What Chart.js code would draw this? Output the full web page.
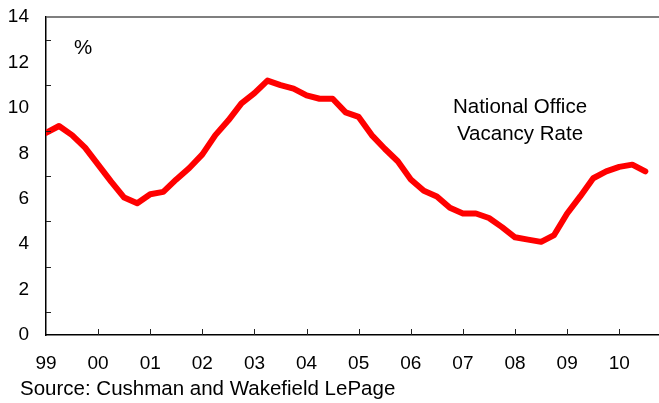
<!DOCTYPE html>
<html lang="en">
<head>
    <meta charset="UTF-8">
    <title>National Office Vacancy Rate</title>
    <style>
        body {
            margin: 0;
            background: #fff;
        }
        #wrap {
            position: relative;
            width: 659px;
            height: 403px;
        }
    </style>
</head>
<body>
    <div id="wrap">
        <canvas id="grafica" width="659" height="403"></canvas>
    </div>

    <script src="https://cdn.jsdelivr.net/npm/chart.js"></script>
    <script>
        // quarterly, 1999 Q1 .. 2010 Q3 (index 0 = 1999 Q1)
        let trimestres = [];
        let vacancia = [8.9, 9.2, 8.8, 8.25, 7.5, 6.75, 6.05, 5.8,
            6.2, 6.3, 6.85, 7.35, 7.95, 8.8, 9.45, 10.2,
            10.65, 11.2, 11.0, 10.85, 10.55, 10.4, 10.4, 9.8,
            9.6, 8.8, 8.2, 7.65, 6.85, 6.35, 6.1, 5.6,
            5.35, 5.35, 5.15, 4.75, 4.3, 4.2, 4.1, 4.4,
            5.35, 6.1, 6.9, 7.2, 7.4, 7.5, 7.2];
        for (let i = 0; i < vacancia.length; i++) trimestres.push(i);

        let anios = ["99", "00", "01", "02", "03", "04", "05", "06", "07", "08", "09", "10"];
        let yTicks = [0, 2, 4, 6, 8, 10, 12, 14];

        let fuente = "'Liberation Sans', Arial, sans-serif";

        // tick marks inside the axes + top frame line + text notes
        let extras = {
            id: 'extras',
            afterDraw(chart) {
                let ctx = chart.ctx;
                let area = chart.chartArea;
                let x = chart.scales.x, y = chart.scales.y;
                ctx.save();
                ctx.strokeStyle = '#555';
                ctx.lineWidth = 1.5;
                ctx.beginPath();
                ctx.moveTo(area.left, area.top);
                ctx.lineTo(area.right, area.top);
                ctx.stroke();

                ctx.strokeStyle = '#222';
                ctx.lineWidth = 1;
                for (let v = 1; v < 14; v += 2) {
                    let py = Math.round(y.getPixelForValue(v)) + 0.5;
                    ctx.beginPath();
                    ctx.moveTo(area.left, py);
                    ctx.lineTo(area.left + 5, py);
                    ctx.stroke();
                }
                for (let k = 1; k < anios.length; k++) {
                    let px = Math.round(x.getPixelForValue(k * 4)) + 0.5;
                    ctx.beginPath();
                    ctx.moveTo(px, area.bottom);
                    ctx.lineTo(px, area.bottom - 6);
                    ctx.stroke();
                }

                ctx.fillStyle = '#000';
                ctx.font = '20.5px ' + fuente;
                ctx.textAlign = 'center';
                ctx.textBaseline = 'alphabetic';
                ctx.fillText('%', 83, 54);
                ctx.fillText('National Office', 520, 113);
                ctx.fillText('Vacancy Rate', 520, 140);
                ctx.textAlign = 'left';
                ctx.fillText('Source: Cushman and Wakefield LePage', 20, 395);
                ctx.restore();
            }
        };

        new Chart(document.getElementById('grafica').getContext('2d'), {
            type: 'line',
            data: {
                labels: trimestres,
                datasets: [{
                    data: vacancia,
                    borderColor: '#ff0000',
                    borderWidth: 6,
                    pointRadius: 0,
                    fill: false,
                    tension: 0,
                    borderJoinStyle: 'round',
                    borderCapStyle: 'round'
                }]
            },
            options: {
                responsive: false,
                animation: false,
                layout: { padding: { top: 17, right: 0, left: 0, bottom: 0 } },
                plugins: {
                    legend: { display: false },
                    tooltip: { enabled: false }
                },
                scales: {
                    x: {
                        type: 'linear',
                        min: 0,
                        max: 47.05,
                        afterFit(s) { s.height = 68; },
                        afterBuildTicks(s) {
                            s.ticks = anios.map((a, k) => ({ value: k * 4 }));
                        },
                        grid: { display: false },
                        border: { display: true, color: '#000', width: 1.5 },
                        ticks: {
                            autoSkip: false,
                            maxRotation: 0,
                            padding: 9,
                            color: '#000',
                            font: { family: fuente, size: 19 },
                            callback: (v) => anios[Math.round(v / 4)]
                        }
                    },
                    y: {
                        min: 0,
                        max: 14,
                        afterFit(s) {
                            s.width = 46;
                            s.paddingTop = 0;
                            s.paddingBottom = 0;
                        },
                        afterBuildTicks(s) {
                            s.ticks = yTicks.map(v => ({ value: v }));
                        },
                        grid: { display: false },
                        border: { display: true, color: '#000', width: 1.5 },
                        ticks: {
                            padding: 9,
                            color: '#000',
                            font: { family: fuente, size: 19 }
                        }
                    }
                }
            },
            plugins: [extras]
        });
    </script>
</body>
</html>
